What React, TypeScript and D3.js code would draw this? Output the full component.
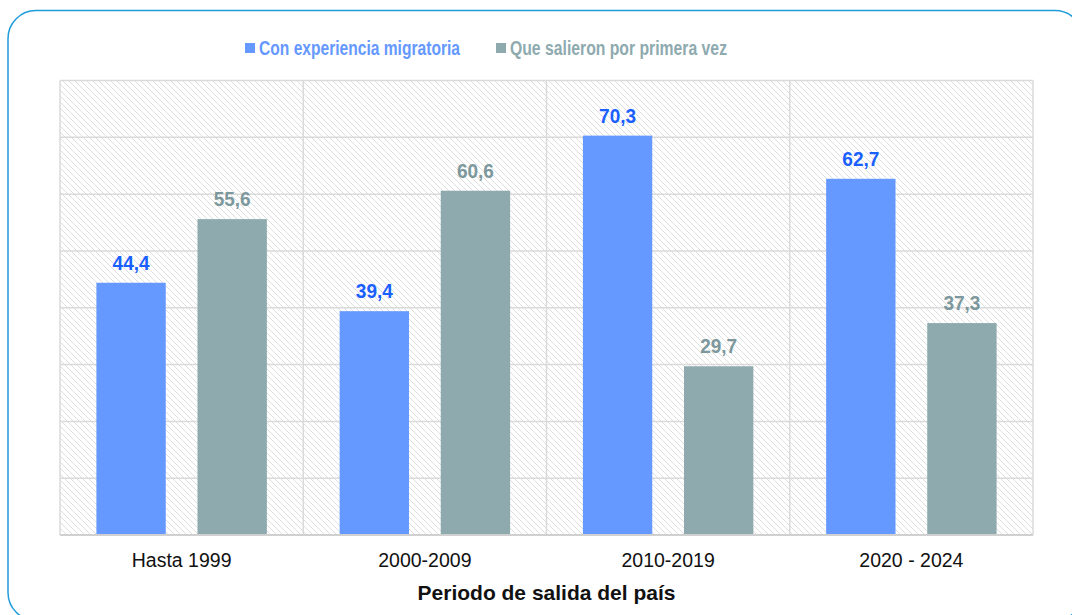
import React, { useEffect, useRef } from 'react';
import * as d3 from 'd3';

const categories: string[] = ['Hasta 1999', '2000-2009', '2010-2019', '2020 - 2024'];
const seriesNames: string[] = ['Con experiencia migratoria', 'Que salieron por primera vez'];
const conExperiencia: number[] = [44.4, 39.4, 70.3, 62.7];
const primeraVez: number[] = [55.6, 60.6, 29.7, 37.3];
const gridTicks: number[] = [0, 10, 20, 30, 40, 50, 60, 70, 80];
const axisTitle = 'Periodo de salida del país';

const barColors = ['#6699ff', '#8eaaaf'];
const labelColors = ['#1a5fff', '#7d989d'];

const App: React.FC = () => {
  const ref = useRef<SVGSVGElement>(null);

  const width = 1072;
  const height = 615;
  const margin = { top: 80.5, right: 39, bottom: 80, left: 60 };

  useEffect(() => {
    draw();
  // eslint-disable-next-line react-hooks/exhaustive-deps
  }, []);

  function draw() {
    const svg = d3.select(ref.current);
    svg.selectAll('*').remove();

    const font = '"Liberation Sans", Arial, sans-serif';
    const plotRight = width - margin.right;
    const plotBottom = height - margin.bottom;

    const x = d3.scaleBand()
      .domain(categories)
      .range([margin.left, plotRight])
      .padding(0);

    const xs = d3.scaleBand()
      .domain(['0', '1'])
      .range([0, x.bandwidth()])
      .paddingInner(0.314)
      .paddingOuter(0.36);

    const y = d3.scaleLinear()
      .domain([0, 80])
      .range([plotBottom, margin.top]);

    // hatch pattern for plot background
    const defs = svg.append('defs');
    const pat = defs.append('pattern')
      .attr('id', 'hatch')
      .attr('patternUnits', 'userSpaceOnUse')
      .attr('width', 6)
      .attr('height', 6);
    pat.append('path')
      .attr('d', 'M0,0 L6,6 M-1,5 L1,7 M5,-1 L7,1')
      .attr('stroke', '#dedede')
      .attr('stroke-width', 1);

    // outer rounded frame
    svg.append('rect')
      .attr('x', 8)
      .attr('y', 10.5)
      .attr('width', 1075)
      .attr('height', 610)
      .attr('rx', 28)
      .attr('fill', '#ffffff')
      .attr('stroke', '#1f9bdc')
      .attr('stroke-width', 1.5);

    svg.append('rect')
      .attr('x', margin.left)
      .attr('y', margin.top)
      .attr('width', plotRight - margin.left)
      .attr('height', plotBottom - margin.top)
      .attr('fill', 'url(#hatch)');

    // horizontal gridlines
    svg.append('g')
      .selectAll('line')
      .data(gridTicks)
      .enter()
      .append('line')
      .attr('x1', margin.left)
      .attr('x2', plotRight)
      .attr('y1', (d) => y(d))
      .attr('y2', (d) => y(d))
      .attr('stroke', '#dadada')
      .attr('stroke-width', 1.5);

    // vertical separators
    const seps = [...categories.map((c) => x(c)!), plotRight];
    svg.append('g')
      .selectAll('line')
      .data(seps)
      .enter()
      .append('line')
      .attr('x1', (d) => d)
      .attr('x2', (d) => d)
      .attr('y1', margin.top)
      .attr('y2', plotBottom)
      .attr('stroke', '#dadada')
      .attr('stroke-width', 1.5);

    const series = [conExperiencia, primeraVez];

    series.forEach((vals, si) => {
      const g = svg.append('g');
      g.selectAll('rect')
        .data(vals)
        .enter()
        .append('rect')
        .attr('x', (d, i) => x(categories[i])! + xs(String(si))!)
        .attr('y', (d) => y(d))
        .attr('width', xs.bandwidth())
        .attr('height', (d) => plotBottom - y(d))
        .attr('fill', barColors[si]);

      g.selectAll('text')
        .data(vals)
        .enter()
        .append('text')
        .attr('x', (d, i) => x(categories[i])! + xs(String(si))! + xs.bandwidth() / 2)
        .attr('y', (d) => y(d) - 13)
        .attr('text-anchor', 'middle')
        .attr('font-family', font)
        .attr('font-weight', 'bold')
        .attr('font-size', 20)
        .attr('textLength', 37)
        .attr('lengthAdjust', 'spacingAndGlyphs')
        .attr('fill', labelColors[si])
        .text((d) => d.toFixed(1).replace('.', ','));
    });

    // bottom axis line
    svg.append('line')
      .attr('x1', margin.left)
      .attr('x2', plotRight)
      .attr('y1', plotBottom)
      .attr('y2', plotBottom)
      .attr('stroke', '#d0d0d0')
      .attr('stroke-width', 2);

    // category labels
    svg.append('g')
      .selectAll('text')
      .data(categories)
      .enter()
      .append('text')
      .attr('x', (d) => x(d)! + x.bandwidth() / 2)
      .attr('y', 567)
      .attr('text-anchor', 'middle')
      .attr('font-family', font)
      .attr('font-size', 19.5)
      .attr('fill', '#111111')
      .text((d) => d);

    svg.append('text')
      .attr('x', (margin.left + plotRight) / 2)
      .attr('y', 600)
      .attr('text-anchor', 'middle')
      .attr('font-family', font)
      .attr('font-weight', 'bold')
      .attr('font-size', 21)
      .attr('fill', '#111111')
      .text(axisTitle);

    // legend
    const legendX = [245, 496];
    const legendW = [201, 217];
    const legend = svg.append('g');
    seriesNames.forEach((name, i) => {
      legend.append('rect')
        .attr('x', legendX[i])
        .attr('y', 43)
        .attr('width', 10)
        .attr('height', 10)
        .attr('fill', barColors[i]);
      legend.append('text')
        .attr('x', legendX[i] + 14)
        .attr('y', 54.5)
        .attr('font-family', font)
        .attr('font-weight', 'bold')
        .attr('font-size', 19.5)
        .attr('textLength', legendW[i])
        .attr('lengthAdjust', 'spacingAndGlyphs')
        .attr('fill', barColors[i])
        .text(name);
    });
  }

  return (
    <div style={{ position: 'absolute', left: 0, top: 0, width, height, overflow: 'hidden' }}>
      <svg ref={ref} width={width} height={height} style={{ display: 'block' }} />
    </div>
  );
};

export default App;
